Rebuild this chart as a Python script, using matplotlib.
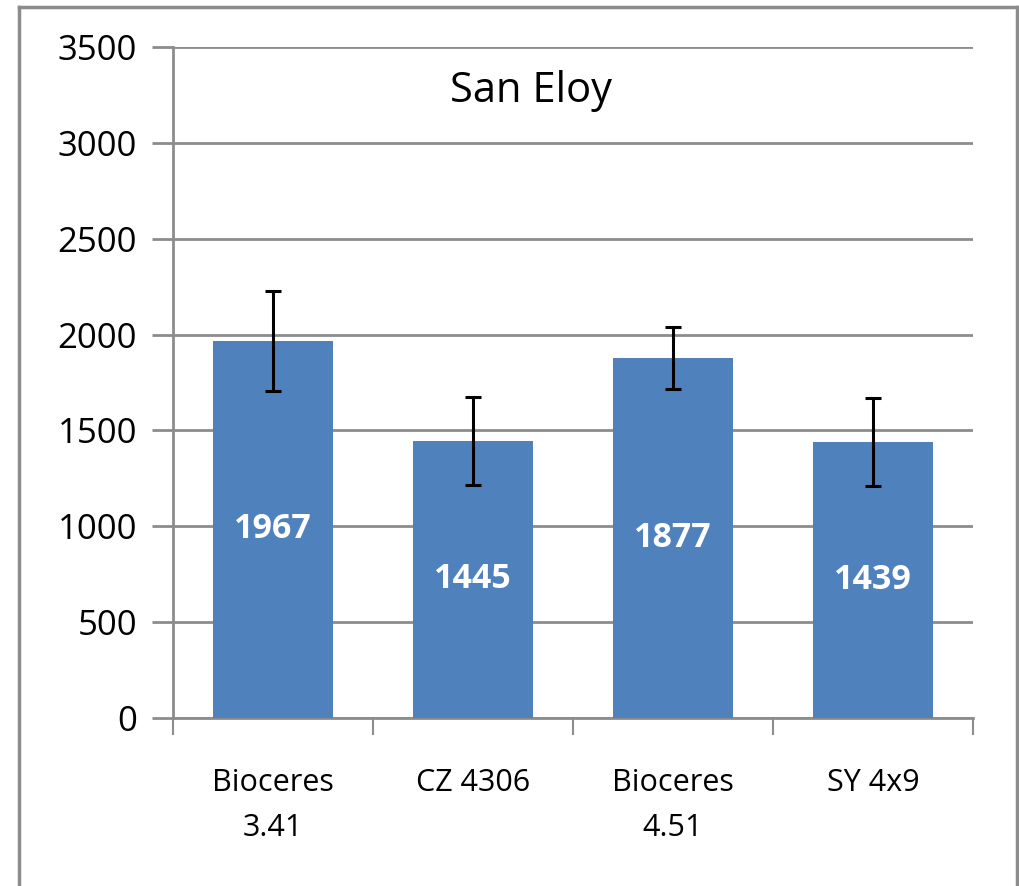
import numpy as np
import matplotlib.pyplot as plt
from matplotlib.lines import Line2D

# ---------- data ----------
categories = ['Bioceres\n3.41', 'CZ 4306', 'Bioceres\n4.51', 'SY 4x9']
values = [1967, 1445, 1877, 1439]
errors = [262, 230, 162, 229]
title = 'San Eloy'

plt.rcParams['font.family'] = ['Open Sans', 'DejaVu Sans']

fig = plt.figure(figsize=(10.2, 8.86), dpi=100)
ax = fig.add_axes([0.1696, 0.1896, 0.7843, 0.7574])

x = np.arange(len(categories))
ax.bar(x, values, width=0.6, color='#4F81BD', zorder=3)
ax.errorbar(x, values, yerr=errors, fmt='none', ecolor='black',
            elinewidth=2.2, capsize=6, capthick=2.2, zorder=4)

for xi, v in zip(x, values):
    ax.text(xi, v / 2, str(v), ha='center', va='center', color='white',
            fontsize=24.5, fontweight='bold', zorder=5)

ax.set_xlim(-0.5, len(categories) - 0.5)
ax.set_ylim(0, 3500)
ax.set_yticks(np.arange(0, 3501, 500))
ax.yaxis.grid(True, color='#8c8c8c', lw=2, zorder=0)
ax.tick_params(axis='y', length=15, width=2, color='#8c8c8c',
               labelsize=25, pad=11)

# category labels sit between ticks at the boundaries
ax.set_xticks(np.arange(-0.5, len(categories), 1.0))
ax.set_xticklabels([])
ax.set_xticks(x, minor=True)
ax.set_xticklabels(categories, minor=True, fontsize=22, linespacing=1.65)
ax.tick_params(axis='x', which='major', length=12, width=1.5,
               color='#8c8c8c', direction='out')
ax.tick_params(axis='x', which='minor', length=0, pad=36)

for s in ['top', 'right']:
    ax.spines[s].set_visible(False)
for s in ['left', 'bottom']:
    ax.spines[s].set_color('#8c8c8c')
    ax.spines[s].set_linewidth(2)

ax.text(0.448, 0.935, title, transform=ax.transAxes, ha='center',
        va='center', fontsize=30)

# outer chart frame
W, H = 1020, 886
fx = lambda p: p / W
fy = lambda p: 1 - p / H
frame_kw = dict(color='#8c8c8c', lw=2.5, transform=fig.transFigure)
fig.add_artist(Line2D([fx(19), fx(19)], [fy(7), 0], **frame_kw))
fig.add_artist(Line2D([fx(19), fx(1017)], [fy(7), fy(7)], **frame_kw))
fig.add_artist(Line2D([fx(1017), fx(1017)], [fy(7), 0], **frame_kw))

fig.savefig('out.png', dpi=100)
